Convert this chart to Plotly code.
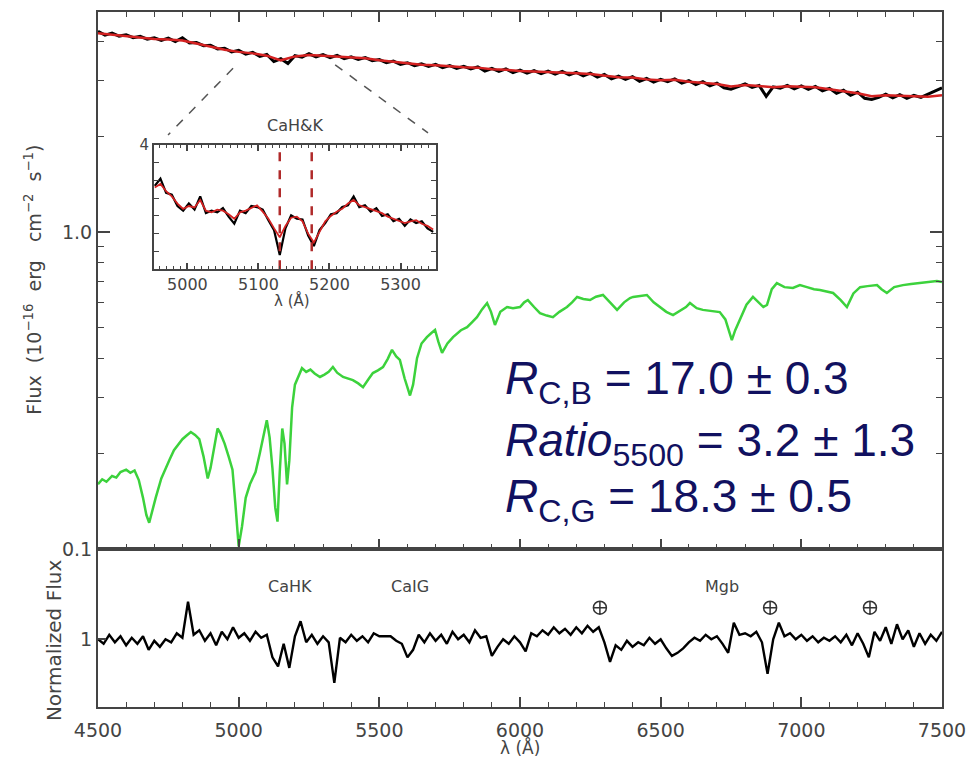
import plotly.graph_objects as go

# ---------------- data ----------------
# top panel: observed (black) and model (red) spectra, flux in 1e-16 erg cm^-2 s^-1
RED_WAVE = list(range(4500, 7501, 50))
RED_FLUX = [4.24, 4.20, 4.15, 4.12, 4.06, 4.05, 4.02, 3.93, 3.84, 3.76,
            3.70, 3.66, 3.60, 3.48, 3.58, 3.62, 3.60, 3.58, 3.55, 3.53,
            3.48, 3.44, 3.40, 3.37, 3.36, 3.33, 3.31, 3.30, 3.26, 3.25,
            3.22, 3.21, 3.20, 3.19, 3.17, 3.15, 3.12, 3.08, 3.07, 3.03,
            3.01, 3.02, 2.98, 2.96, 2.93, 2.88, 2.91, 2.89, 2.86, 2.88,
            2.87, 2.86, 2.82, 2.78, 2.74, 2.68, 2.70, 2.69, 2.68, 2.67,
            2.70]

BLACK_WAVE = list(range(4500, 7501, 25))
BLACK_FLUX = [4.30, 4.18, 4.24, 4.15, 4.19, 4.10, 4.14, 4.06, 4.10, 4.02,
              4.09, 3.99, 4.10, 3.95, 3.96, 3.87, 3.88, 3.78, 3.80, 3.70,
              3.74, 3.64, 3.69, 3.58, 3.63, 3.45, 3.52, 3.40, 3.60, 3.56,
              3.65, 3.57, 3.63, 3.55, 3.61, 3.52, 3.57, 3.50, 3.55, 3.47,
              3.50, 3.42, 3.46, 3.38, 3.42, 3.35, 3.39, 3.33, 3.38, 3.30,
              3.35, 3.28, 3.33, 3.27, 3.32, 3.22, 3.28, 3.21, 3.27, 3.18,
              3.24, 3.17, 3.23, 3.16, 3.22, 3.15, 3.21, 3.13, 3.19, 3.11,
              3.17, 3.08, 3.14, 3.04, 3.10, 3.03, 3.09, 2.99, 3.05, 2.97,
              3.03, 2.98, 3.04, 2.95, 3.00, 2.92, 2.98, 2.89, 2.95, 2.85,
              2.82, 2.88, 2.93, 2.86, 2.90, 2.68, 2.87, 2.84, 2.90, 2.83,
              2.89, 2.82, 2.88, 2.79, 2.84, 2.74, 2.80, 2.70, 2.76, 2.64,
              2.62, 2.66, 2.72, 2.65, 2.71, 2.64, 2.70, 2.66, 2.72, 2.78,
              2.85]

# top panel: green spectrum
GREEN_WAVE = [4500, 4515, 4530, 4550, 4565, 4580, 4600, 4615, 4630, 4645,
              4660, 4672, 4682, 4692, 4705, 4725, 4740, 4755, 4770, 4785,
              4800, 4815, 4830, 4845, 4860, 4875, 4890, 4900, 4912, 4925,
              4935, 4950, 4965, 4978, 4988, 5000, 5012, 5025, 5040, 5060,
              5075, 5090, 5100, 5110, 5120, 5130, 5138, 5146, 5155, 5163,
              5172, 5180, 5190, 5200, 5212, 5225, 5240, 5255, 5270, 5289,
              5305, 5320, 5335, 5350, 5371, 5390, 5406, 5425, 5442, 5460,
              5477, 5495, 5513, 5530, 5545, 5560, 5573, 5590, 5609, 5620,
              5634, 5650, 5669, 5685, 5698, 5710, 5723, 5742, 5762, 5790,
              5812, 5830, 5847, 5865, 5883, 5897, 5911, 5930, 5954, 5975,
              6000, 6015, 6028, 6050, 6071, 6095, 6117, 6140, 6167, 6185,
              6203, 6225, 6249, 6270, 6295, 6320, 6345, 6370, 6391, 6402,
              6425, 6451, 6475, 6497, 6520, 6544, 6570, 6590, 6604, 6628,
              6650, 6680, 6710, 6730, 6745, 6753, 6765, 6782, 6805, 6828,
              6850, 6865, 6878, 6895, 6913, 6940, 6970, 6995, 7020, 7045,
              7066, 7090, 7113, 7140, 7162, 7185, 7209, 7235, 7269, 7285,
              7304, 7330, 7361, 7390, 7418, 7450, 7482, 7500]
GREEN_FLUX = [0.160, 0.166, 0.163, 0.170, 0.168, 0.175, 0.178, 0.174, 0.177, 0.165,
              0.145, 0.128, 0.121, 0.132, 0.145, 0.167, 0.180, 0.192, 0.205, 0.214,
              0.222, 0.228, 0.234, 0.229, 0.222, 0.196, 0.167, 0.180, 0.205, 0.240,
              0.232, 0.215, 0.195, 0.178, 0.140, 0.102, 0.118, 0.145, 0.160, 0.175,
              0.200, 0.235, 0.255, 0.225, 0.180, 0.135, 0.122, 0.175, 0.240, 0.215,
              0.160, 0.190, 0.280, 0.330, 0.350, 0.372, 0.362, 0.368, 0.358, 0.349,
              0.355, 0.362, 0.375, 0.360, 0.349, 0.344, 0.341, 0.333, 0.324, 0.342,
              0.359, 0.366, 0.375, 0.398, 0.425, 0.405, 0.395, 0.345, 0.305, 0.330,
              0.400, 0.445, 0.466, 0.480, 0.491, 0.450, 0.416, 0.445, 0.466, 0.490,
              0.501, 0.520, 0.539, 0.570, 0.597, 0.560, 0.509, 0.560, 0.580, 0.575,
              0.580, 0.600, 0.610, 0.580, 0.555, 0.545, 0.539, 0.560, 0.580, 0.600,
              0.624, 0.615, 0.610, 0.625, 0.633, 0.600, 0.568, 0.600, 0.619, 0.624,
              0.628, 0.633, 0.600, 0.580, 0.560, 0.547, 0.565, 0.580, 0.597, 0.575,
              0.568, 0.565, 0.559, 0.530, 0.480, 0.456, 0.490, 0.528, 0.590, 0.624,
              0.600, 0.580, 0.589, 0.660, 0.690, 0.670, 0.666, 0.680, 0.670, 0.660,
              0.656, 0.650, 0.642, 0.610, 0.580, 0.640, 0.670, 0.675, 0.680, 0.660,
              0.642, 0.670, 0.680, 0.685, 0.690, 0.695, 0.700, 0.695]

# bottom panel: normalized flux
RES_WAVE = list(range(4500, 7501, 20))
RES_FLUX = [1.00, 0.97, 1.03, 0.98, 1.02, 0.96, 1.01, 0.97, 1.02, 0.93,
            0.99, 0.95, 1.00, 0.98, 1.04, 1.01, 1.25, 1.03, 1.06, 0.99,
            1.04, 0.96, 1.05, 1.00, 1.08, 1.01, 1.04, 0.99, 1.05, 1.01,
            1.03, 0.88, 0.82, 0.97, 0.81, 1.02, 1.12, 0.98, 1.03, 0.97,
            1.02, 0.98, 0.71, 1.01, 0.98, 1.03, 0.99, 1.02, 0.98, 1.04,
            1.02, 1.02, 1.02, 0.99, 0.97, 0.88, 0.93, 1.03, 0.98, 1.04,
            0.99, 1.03, 0.97, 1.05, 1.00, 1.03, 0.98, 1.06, 1.01, 1.02,
            0.89, 0.95, 1.00, 0.97, 1.02, 0.98, 0.92, 1.04, 1.02, 1.06,
            1.03, 1.08, 1.04, 1.07, 1.03, 1.08, 1.04, 1.09, 1.05, 1.08,
            0.98, 0.85, 0.96, 0.93, 0.99, 0.95, 0.98, 0.96, 1.01, 0.97,
            1.00, 0.94, 0.89, 0.91, 0.94, 0.98, 1.01, 0.99, 1.03, 1.00,
            1.02, 0.97, 0.91, 1.11, 1.03, 1.04, 1.02, 1.05, 0.98, 0.77,
            1.00, 1.11, 1.02, 1.04, 1.00, 1.03, 0.99, 1.02, 0.98, 1.01,
            0.99, 1.02, 0.98, 1.03, 0.96, 1.04, 0.97, 0.88, 1.05, 0.99,
            1.08, 0.97, 1.10, 1.00, 1.06, 0.95, 1.04, 0.97, 1.03, 0.99,
            1.05]

# bottom panel labels and telluric markers
LINE_LABELS = ["CaHK", "CaIG", "Mgb"]
LINE_LABEL_WAVE = [5183, 5609, 6718]
LINE_LABEL_Y = 1.35
TELLURIC_WAVE = [6284, 6889, 7244]
TELLURIC_Y = [1.21, 1.21, 1.21]

# inset: zoom on Ca H&K
INSET_WAVE = list(range(4954, 5351, 8))
INSET_RED = [2.80, 2.90, 2.70, 2.55, 2.35, 2.20, 2.28, 2.24, 2.45, 2.15,
             2.10, 2.18, 2.15, 2.05, 1.92, 2.10, 2.15, 2.22, 2.30, 2.12,
             1.92, 1.65, 1.40, 1.72, 1.95, 1.98, 1.85, 1.50, 1.25, 1.55,
             1.85, 2.00, 2.12, 2.20, 2.35, 2.45, 2.30, 2.25, 2.20, 2.15,
             2.08, 1.98, 1.92, 1.85, 1.80, 1.85, 1.88, 1.78, 1.72, 1.62]
INSET_BLACK = [2.85, 3.05, 2.65, 2.60, 2.28, 2.15, 2.35, 2.18, 2.55, 2.08,
               2.15, 2.10, 2.22, 1.98, 1.78, 2.15, 2.08, 2.28, 2.25, 2.18,
               1.88, 1.60, 0.90, 1.65, 2.02, 1.92, 1.90, 1.45, 1.15, 1.60,
               1.80, 2.05, 2.08, 2.25, 2.30, 2.55, 2.25, 2.30, 2.12, 2.22,
               2.00, 2.05, 1.85, 1.92, 1.72, 1.90, 1.80, 1.85, 1.65, 1.55]
CAHK_LINES = [5130, 5175]
INSET_XRANGE = [4953, 5350]
INSET_YRANGE = [0.5, 4.0]

TEXT_LINES = ["<i>R</i><sub>C,B</sub> = 17.0 ± 0.3",
              "<i>Ratio</i><sub>5500</sub> = 3.2 ± 1.3",
              "<i>R</i><sub>C,G</sub> = 18.3 ± 0.5"]

# ---------------- figure ----------------
AXC = "#444444"
TF = "DejaVu Sans"
NB = "\u00a0"
fig = go.Figure()

fig.add_trace(go.Scatter(x=GREEN_WAVE, y=GREEN_FLUX, mode="lines",
                         line=dict(color="#3cd23c", width=2.5), xaxis="x2", yaxis="y2"))
fig.add_trace(go.Scatter(x=BLACK_WAVE, y=BLACK_FLUX, mode="lines",
                         line=dict(color="black", width=3), xaxis="x2", yaxis="y2"))
fig.add_trace(go.Scatter(x=RED_WAVE, y=RED_FLUX, mode="lines",
                         line=dict(color="#d42222", width=2.5), xaxis="x2", yaxis="y2"))

fig.add_trace(go.Scatter(x=RES_WAVE, y=RES_FLUX, mode="lines",
                         line=dict(color="black", width=2.4), xaxis="x", yaxis="y"))
fig.add_trace(go.Scatter(x=TELLURIC_WAVE, y=TELLURIC_Y, mode="markers",
                         marker=dict(symbol="circle-cross-open", size=13,
                                     color="#333333", line=dict(width=1.5)),
                         xaxis="x", yaxis="y"))

fig.add_trace(go.Scatter(x=INSET_WAVE, y=INSET_BLACK, mode="lines",
                         line=dict(color="black", width=2.2), xaxis="x3", yaxis="y3"))
fig.add_trace(go.Scatter(x=INSET_WAVE, y=INSET_RED, mode="lines",
                         line=dict(color="#d42222", width=1.8), xaxis="x3", yaxis="y3"))
for w in CAHK_LINES:
    fig.add_trace(go.Scatter(x=[w, w], y=INSET_YRANGE, mode="lines",
                             line=dict(color="#b02a2a", width=2.5, dash="dash"),
                             xaxis="x3", yaxis="y3"))

common = dict(showline=True, linecolor=AXC, linewidth=2, ticks="inside",
              tickcolor=AXC, tickwidth=1.5, showgrid=False, zeroline=False,
              automargin=False,
              tickfont=dict(family=TF, size=19, color=AXC))

BOT = 0.2273
INSET_XD = [0.0664, 0.4005]
INSET_YD = [0.630, 0.8086]

fig.update_layout(
    width=972, height=758, margin=dict(l=98, r=30, t=12, b=51, autoexpand=False),
    paper_bgcolor="white", plot_bgcolor="white", showlegend=False,
    xaxis=dict(common, domain=[0, 1], anchor="y", range=[4500, 7500],
               tickvals=[4500, 5000, 5500, 6000, 6500, 7000, 7500], ticklen=10,
               minor=dict(dtick=100, ticklen=5, ticks="inside", tickcolor=AXC, tickwidth=1.2),
               mirror=True, ticklabelstandoff=5),
    xaxis2=dict(common, domain=[0, 1], anchor="y2", matches="x", range=[4500, 7500],
                tickvals=[4500, 5000, 5500, 6000, 6500, 7000, 7500], ticklen=10,
                minor=dict(dtick=100, ticklen=5, ticks="inside", tickcolor=AXC, tickwidth=1.2),
                showticklabels=False, mirror="ticks"),
    yaxis=dict(common, domain=[0, BOT], anchor="x", range=[0.55, 1.6],
               tickvals=[1], ticktext=["1"], ticklen=8, mirror=True),
    yaxis2=dict(common, domain=[BOT, 1], anchor="x2", type="log", range=[-1, 0.694],
                tickvals=[0.1, 1], ticktext=["0.1", "1.0"], ticklen=12,
                minor=dict(tickvals=[0.2, 0.3, 0.4, 0.5, 0.6, 0.7, 0.8, 0.9, 2, 3, 4],
                           ticklen=6, ticks="inside", tickcolor=AXC, tickwidth=1.2),
                mirror="ticks"),
    xaxis3=dict(common, domain=INSET_XD, anchor="y3", range=INSET_XRANGE,
                tickvals=[5000, 5100, 5200, 5300], ticklen=6,
                minor=dict(dtick=10, ticklen=3, ticks="inside", tickcolor=AXC, tickwidth=1),
                mirror="ticks", tickfont=dict(family=TF, size=16, color=AXC)),
    yaxis3=dict(common, domain=INSET_YD, anchor="x3", range=INSET_YRANGE,
                tickvals=[4], ticktext=["4"], ticklen=6,
                minor=dict(tickvals=[0.5, 1, 1.5, 2, 2.5, 3, 3.5], ticklen=5,
                           ticks="inside", tickcolor=AXC, tickwidth=1),
                mirror="ticks", tickfont=dict(family=TF, size=15, color=AXC)),
)

# connector dashed lines from main spectrum to inset
for (x0, y0, x1, y1) in [(0.160, 0.919, 0.083, 0.823), (0.281, 0.924, 0.391, 0.826)]:
    fig.add_shape(type="line", xref="paper", yref="paper", x0=x0, y0=y0, x1=x1, y1=y1,
                  line=dict(color="#555555", width=1.5, dash="dash"))

C = dict(xanchor="center", yanchor="middle", showarrow=False)
ann = []
flux_title = ("Flux" + NB * 2 + "(10<sup>−16</sup>" + NB * 2 + "erg" + NB * 3 +
              "cm<sup>−2</sup>" + NB * 2 + "s<sup>−1</sup>)")
ann.append(dict(C, text=flux_title, xref="paper", yref="paper", x=-0.078, y=0.615,
                textangle=-90, font=dict(family=TF, size=19, color=AXC)))
ann.append(dict(C, text="Normalized Flux", xref="paper", yref="paper", x=-0.052, y=0.0964,
                textangle=-90, font=dict(family=TF, size=20, color=AXC)))
ann.append(dict(C, text="λ (Å)", xref="paper", yref="paper", x=0.5, y=-0.0585,
                font=dict(family=TF, size=17, color=AXC)))
ann.append(dict(C, text="CaH&K", xref="paper", yref="paper", x=0.2334, y=0.8374,
                font=dict(family=TF, size=16, color=AXC)))
ann.append(dict(C, text="λ (Å)", xref="paper", yref="paper", x=0.2296, y=0.5856,
                font=dict(family=TF, size=15, color=AXC)))
for lab, w in zip(LINE_LABELS, LINE_LABEL_WAVE):
    ann.append(dict(C, text=lab, xref="x", yref="y", x=w, y=LINE_LABEL_Y,
                    font=dict(family=TF, size=16, color=AXC)))
for t, yy in zip(TEXT_LINES, [0.469, 0.379, 0.298]):
    ann.append(dict(text=t, xref="paper", yref="paper", x=0.48, y=yy, xanchor="left",
                    yanchor="middle", showarrow=False,
                    font=dict(family="Liberation Sans", size=46, color="#111160")))
fig.update_layout(annotations=ann)

fig.write_html("out.html")
